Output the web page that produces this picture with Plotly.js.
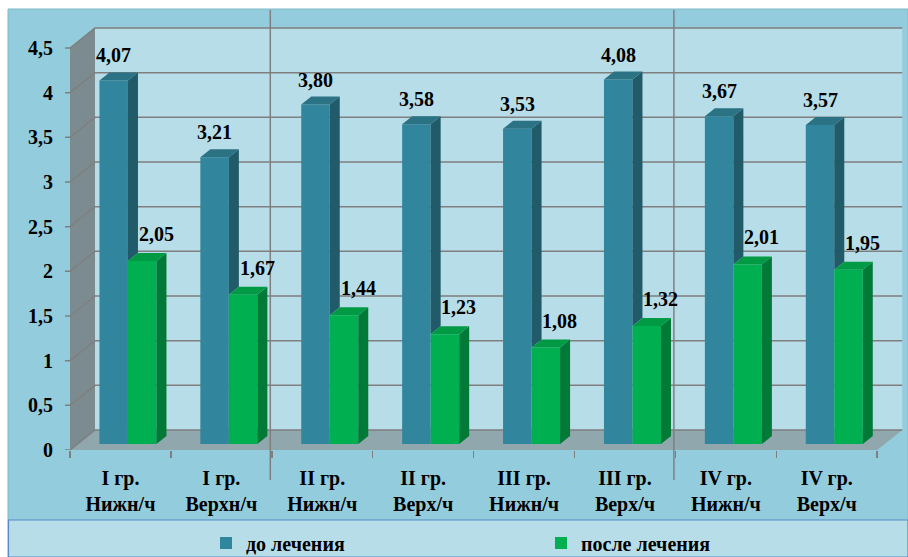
<!DOCTYPE html>
<html>
<head>
<meta charset="utf-8">
<script src="https://cdn.plot.ly/plotly-3.0.1.min.js"></script>
<style>html,body{margin:0;padding:0;background:#fff;}#chart{width:908px;height:557px;}</style>
</head>
<body>
<div id="chart"></div>
<script>
// ---- data ----
const categories = ["I гр.<br>Нижн/ч", "I гр.<br>Верхн/ч", "II гр.<br>Нижн/ч", "II гр.<br>Верх/ч",
                    "III гр.<br>Нижн/ч", "III гр.<br>Верх/ч", "IV гр.<br>Нижн/ч", "IV гр.<br>Верх/ч"];
const beforeTreatment = [4.07, 3.21, 3.80, 3.58, 3.53, 4.08, 3.67, 3.57];
const afterTreatment  = [2.05, 1.67, 1.44, 1.23, 1.08, 1.32, 2.01, 1.95];
const seriesNames = ["до лечения", "после лечения"];
const yTicks = [0, 0.5, 1, 1.5, 2, 2.5, 3, 3.5, 4, 4.5];
const groupSeparators = [2, 6];

// ---- geometry / styling ----
const fmt = v => String(v).replace('.', ',');
const lbl = v => v.toFixed(2).replace('.', ',');
const N = categories.length;
const wallDX = 0.2478, wallDY = 0.2239;   // depth of the box (≈25px, 20px)
const bx0 = 0.3 * wallDX, by0 = 0.3 * wallDY; // bar front plane
const sdx = 0.4 * wallDX, sdy = 0.4 * wallDY; // bar depth
const barW = 0.2825;
const idx = categories.map((_, i) => i);
const blueX = idx.map(i => i + 0.5 - barW / 2 + bx0);
const greenX = idx.map(i => i + 0.5 + barW / 2 + bx0);
const yMax = 4.5;
const FONT = 'Liberation Serif, Times New Roman, serif';

const C = {
  outer: '#93CDDD', wall: '#B7DEE8', leftWall: '#7B8B8F', floor: '#8FA7AD',
  grid: '#7F7F7F', blue: '#31859C', blueSide: '#215A69', blueTop: '#2A7284',
  green: '#00B050', greenSide: '#007A36', greenTop: '#009A45'
};

function polys(xc, vals, kind, clipVals) {
  const xs = [], ys = [];
  xc.forEach((c, i) => {
    const L = c - barW / 2, R = c + barW / 2, T = vals[i] + by0;
    if (kind === 'top') {
      xs.push(L, R, R + sdx, L + sdx, L, null);
      ys.push(T, T, T + sdy, T + sdy, T, null);
    } else {
      const B = clipVals ? clipVals[i] + by0 : by0;
      xs.push(R, R + sdx, R + sdx, R, R, null);
      ys.push(B, B + sdy, T + sdy, T, B, null);
    }
  });
  return {xs, ys};
}
function faceTrace(p, color) {
  return {type: 'scatter', mode: 'lines', x: p.xs, y: p.ys, fill: 'toself', fillcolor: color,
          line: {width: 0, color: color}, hoverinfo: 'skip', showlegend: false};
}

const traces = [
  {type: 'bar', name: seriesNames[0], x: blueX, y: beforeTreatment, base: by0, width: barW,
   marker: {color: C.blue, line: {width: 0}}, hoverinfo: 'skip'},
  {type: 'bar', name: seriesNames[1], x: greenX, y: afterTreatment, base: by0, width: barW,
   marker: {color: C.green, line: {width: 0}}, hoverinfo: 'skip'},
  faceTrace(polys(blueX, beforeTreatment, 'side', afterTreatment), C.blueSide),
  faceTrace(polys(blueX, beforeTreatment, 'top'), C.blueTop),
  faceTrace(polys(greenX, afterTreatment, 'side'), C.greenSide),
  faceTrace(polys(greenX, afterTreatment, 'top'), C.greenTop)
];

// ---- shapes ----
const W = 908, H = 557, mL = 62, mR = 0, mT = 9, mB = 107;
const pw = W - mL - mR, ph = H - mT - mB;
const pxX = px => (px - mL) / pw;
const pxY = py => (H - mB - py) / ph;

const shapes = [
  {type: 'rect', xref: 'paper', yref: 'paper', x0: pxX(8), x1: pxX(908), y0: pxY(557), y1: pxY(9),
   fillcolor: C.outer, line: {color: '#7FB9C9', width: 1}, layer: 'below'},
  {type: 'rect', xref: 'paper', yref: 'paper', x0: pxX(8.5), x1: pxX(908), y0: pxY(557), y1: pxY(520),
   fillcolor: C.wall, line: {color: '#5A8AC6', width: 1.2}, layer: 'below'},
  {type: 'rect', xref: 'x', yref: 'y', x0: wallDX, x1: N + wallDX, y0: wallDY, y1: yMax + wallDY,
   fillcolor: C.wall, line: {width: 0}, layer: 'below'},
  {type: 'path', xref: 'x', yref: 'y', layer: 'below', fillcolor: C.leftWall, line: {width: 0},
   path: `M0,0 L0,${yMax} L${wallDX},${yMax + wallDY} L${wallDX},${wallDY} Z`},
  {type: 'path', xref: 'x', yref: 'y', layer: 'below', fillcolor: C.floor, line: {width: 0},
   path: `M0,0 L${N},0 L${N + wallDX},${wallDY} L${wallDX},${wallDY} Z`}
];
yTicks.forEach(v => {
  shapes.push({type: 'path', xref: 'x', yref: 'y', layer: 'below', line: {color: C.grid, width: 1.5},
    path: `M-0.05,${v} L0,${v} L${wallDX},${v + wallDY} L${N + wallDX},${v + wallDY}`});
});
groupSeparators.forEach(b => {
  shapes.push({type: 'line', xref: 'x', yref: 'paper', x0: b - 0.015, x1: b - 0.015, y0: pxY(480), y1: pxY(10),
    line: {color: C.grid, width: 1.5}, layer: 'above'});
});

// ---- data labels ----
const annotations = [];
idx.forEach(i => {
  annotations.push({x: blueX[i], y: beforeTreatment[i] + by0 + sdy, text: lbl(beforeTreatment[i]),
    showarrow: false, yanchor: 'bottom', xanchor: 'center', yshift: 4,
    font: {family: FONT, size: 20, color: '#000', weight: 'bold'}});
  annotations.push({x: greenX[i], y: afterTreatment[i] + by0 + sdy, text: lbl(afterTreatment[i]),
    showarrow: false, yanchor: 'bottom', xanchor: 'center', yshift: 6, xshift: 14,
    font: {family: FONT, size: 20, color: '#000', weight: 'bold'}});
});

const layout = {
  width: W, height: H,
  margin: {l: mL, r: mR, t: mT, b: mB, pad: 0, autoexpand: false},
  paper_bgcolor: '#ffffff', plot_bgcolor: 'rgba(0,0,0,0)',
  font: {family: FONT, size: 20, color: '#000', weight: 'bold'},
  showlegend: true,
  barmode: 'overlay',
  xaxis: {range: [-0.0793, 8.305], tickmode: 'array', tickvals: idx.map(i => i + 0.5), ticktext: categories,
    ticks: '', showgrid: false, zeroline: false, showline: false, ticklabelstandoff: 14, automargin: false,
    tickfont: {family: FONT, size: 20, weight: 'bold'},
    minor: {tickmode: 'array', tickvals: idx.concat([N]), ticks: 'outside', ticklen: 7, tickcolor: C.grid, tickwidth: 1.5, showgrid: false}},
  yaxis: {range: [0, 4.937], tickmode: 'array', tickvals: yTicks, ticktext: yTicks.map(fmt),
    ticks: '', showgrid: false, zeroline: false, showline: false, ticklabelstandoff: 8, automargin: false,
    tickfont: {family: FONT, size: 20, weight: 'bold'}},
  legend: {orientation: 'h', x: pxX(206), xanchor: 'left', y: pxY(543), yanchor: 'middle',
    bgcolor: 'rgba(0,0,0,0)', entrywidth: 290, entrywidthmode: 'pixels', itemwidth: 30,
    font: {family: FONT, size: 20, weight: 'bold'}, traceorder: 'normal'},
  shapes: shapes,
  annotations: annotations
};

Plotly.newPlot('chart', traces, layout, {displayModeBar: false, staticPlot: true});
</script>
</body>
</html>
